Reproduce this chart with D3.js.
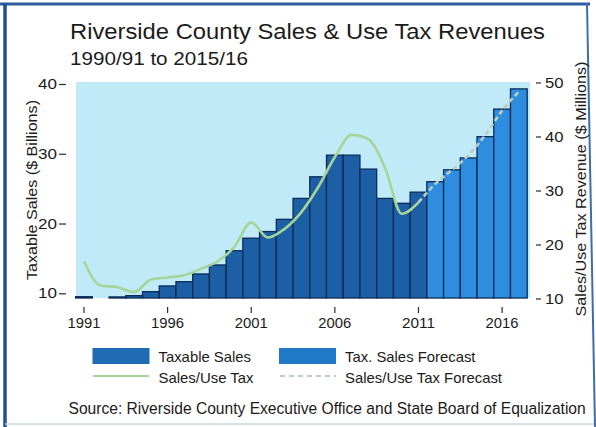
<!DOCTYPE html>
<html>
<head>
<meta charset="utf-8">
<script src="https://cdn.jsdelivr.net/npm/d3@7/dist/d3.min.js"></script>
<style>
  html, body { margin: 0; padding: 0; background: #ffffff; }
  svg { display: block; font-family: "Liberation Sans", Arial, Helvetica, sans-serif; }
</style>
</head>
<body>
<svg id="chart" width="596" height="427"></svg>
<script>
// Fiscal years shown on the x axis (bars are labelled by ending year)
const years = [1991, 1992, 1993, 1994, 1995, 1996, 1997, 1998, 1999, 2000,
               2001, 2002, 2003, 2004, 2005, 2006, 2007, 2008, 2009, 2010,
               2011, 2012, 2013, 2014, 2015, 2016, 2017];
const firstForecastYear = 2012;

// Taxable sales, $ billions (left axis)
const taxableSales = [9.51, 9.3, 9.48, 9.66, 10.23, 11.05, 11.66, 12.77, 14.06, 16.1,
                      17.9, 18.85, 20.6, 23.6, 26.7, 29.8, 29.8, 27.8, 23.6, 22.9,
                      24.5, 26.0, 27.7, 29.4, 32.45, 36.4, 39.3];

// Sales/use tax revenue, $ millions (right axis)
const taxYears = [1991, 1992, 1993, 1994, 1995, 1996, 1997, 1998, 1999, 2000,
                  2001, 2002, 2003, 2004, 2005, 2006, 2007, 2008, 2009, 2010, 2011];
const taxRevenue = [16.9, 12.4, 12.1, 11.2, 13.5, 13.9, 14.3, 15.5, 16.9, 19.6,
                    24.1, 21.3, 22.9, 26.0, 30.6, 36.2, 40.3, 39.5, 34.2, 25.7, 27.8];
const forecastTaxYears = [2011, 2012, 2013, 2014, 2015, 2016, 2017];
const forecastTaxRevenue = [27.8, 31.2, 33.8, 36.6, 40.3, 44.8, 48.3];

const xTickYears = [1991, 1996, 2001, 2006, 2011, 2016];
const leftTicks = [10, 20, 30, 40];
const rightTicks = [10, 20, 30, 40, 50];

const title = "Riverside County Sales & Use Tax Revenues";
const subtitle = "1990/91 to 2015/16";
const leftLabel = "Taxable Sales ($ Billions)";
const rightLabel = "Sales/Use Tax Revenue ($ Millions)";
const source = "Source: Riverside County Executive Office and State Board of Equalization";
const legendItems = ["Taxable Sales", "Tax. Sales Forecast", "Sales/Use Tax", "Sales/Use Tax Forecast"];

// ---- layout ----
const svg = d3.select("#chart");
const plot = { left: 76, right: 530, top: 82, bottom: 298 };

const x = d3.scaleBand().domain(years).range([75.6, 527.2]).padding(0);
const yLeft = d3.scaleLinear().domain([10, 40]).range([293.3, 84]);
const yRight = d3.scaleLinear().domain([10, 50]).range([298.5, 82.5]);

const colActual = "#1d5fa4";
const colForecast = "#2f8ddf";
const colOutline = "#0b2b58";
const colLine = "#a6d59a";
const colDash = "#bccdc0";
const ink = "#1b1b1b";

// page frame
svg.append("rect").attr("width", 596).attr("height", 427).attr("fill", "#ffffff");
svg.append("line").attr("x1", 0).attr("x2", 590).attr("y1", 4).attr("y2", 4)
  .attr("stroke", "#2b5b9c").attr("stroke-width", 3);
svg.append("line").attr("x1", 5).attr("x2", 5).attr("y1", 3).attr("y2", 427)
  .attr("stroke", "#1f4f96").attr("stroke-width", 3.5);
svg.append("line").attr("x1", 587).attr("x2", 595).attr("y1", 3).attr("y2", 427)
  .attr("stroke", "#3e6ea8").attr("stroke-width", 2);
svg.append("line").attr("x1", 5).attr("x2", 594).attr("y1", 424).attr("y2", 424)
  .attr("stroke", "#c4d7e7").attr("stroke-width", 1.5);

// titles
svg.append("text").attr("x", 70).attr("y", 39).attr("font-size", 22).attr("fill", ink)
  .attr("textLength", 475).attr("lengthAdjust", "spacingAndGlyphs")
  .text(title);
svg.append("text").attr("x", 70).attr("y", 65).attr("font-size", 17.5).attr("fill", ink)
  .attr("textLength", 178).attr("lengthAdjust", "spacingAndGlyphs")
  .text(subtitle);

// plot background
svg.append("rect").attr("x", plot.left).attr("y", plot.top)
  .attr("width", plot.right - plot.left).attr("height", plot.bottom - plot.top)
  .attr("fill", "#c0eaf8");

// bars
const barData = years.map((yr, i) => ({ year: yr, value: taxableSales[i] }));
svg.append("g").selectAll("rect").data(barData).join("rect")
  .attr("x", d => x(d.year))
  .attr("width", x.bandwidth())
  .attr("y", d => Math.min(plot.bottom, yLeft(d.value)))
  .attr("height", d => Math.max(0, plot.bottom - yLeft(d.value)))
  .attr("fill", d => d.year >= firstForecastYear ? colForecast : colActual)
  .attr("stroke", colOutline)
  .attr("stroke-width", 1.3);

// tax revenue lines
const line = d3.line()
  .x(d => x(d[0]) + x.bandwidth() / 2)
  .y(d => yRight(d[1]))
  .curve(d3.curveMonotoneX);

svg.append("path")
  .datum(taxYears.map((yr, i) => [yr, taxRevenue[i]]))
  .attr("d", line).attr("fill", "none")
  .attr("stroke", colLine).attr("stroke-width", 2.6).attr("stroke-linejoin", "round");

svg.append("path")
  .datum(forecastTaxYears.map((yr, i) => [yr, forecastTaxRevenue[i]]))
  .attr("d", line).attr("fill", "none")
  .attr("stroke", colDash).attr("stroke-width", 2.6).attr("stroke-dasharray", "5,3");

// axes
function styleAxis(g, labelWidth) {
  g.select(".domain").remove();
  g.selectAll(".tick line").attr("stroke", "#2a2a2a").attr("stroke-width", 1.2);
  g.selectAll(".tick text").attr("fill", ink).attr("font-size", 14.5)
    .attr("font-family", "Liberation Sans, Arial, sans-serif")
    .attr("textLength", labelWidth).attr("lengthAdjust", "spacingAndGlyphs");
}

svg.append("g").attr("transform", "translate(66,0)")
  .call(d3.axisLeft(yLeft).tickValues(leftTicks).tickSize(7).tickPadding(2))
  .call(g => styleAxis(g, 19));

svg.append("g").attr("transform", "translate(536,0)")
  .call(d3.axisRight(yRight).tickValues(rightTicks).tickSize(5).tickPadding(4))
  .call(g => styleAxis(g, 18.5));

svg.append("g").attr("transform", "translate(0,307)")
  .call(d3.axisBottom(x).tickValues(xTickYears).tickSize(6).tickPadding(5))
  .call(g => styleAxis(g, 33));

// axis titles
svg.append("text").attr("transform", "translate(37,190) rotate(-90)")
  .attr("text-anchor", "middle").attr("font-size", 15.5).attr("fill", ink)
  .attr("textLength", 180).attr("lengthAdjust", "spacingAndGlyphs")
  .text(leftLabel);
svg.append("text").attr("transform", "translate(586,189) rotate(-90)")
  .attr("text-anchor", "middle").attr("font-size", 15).attr("fill", ink)
  .attr("textLength", 255).attr("lengthAdjust", "spacingAndGlyphs")
  .text(rightLabel);

// legend
const lg = svg.append("g").attr("font-size", 14.5).attr("fill", ink);
lg.append("rect").attr("x", 92.5).attr("y", 348).attr("width", 57).attr("height", 16).attr("fill", "#1f6cb3");
lg.append("rect").attr("x", 279).attr("y", 348).attr("width", 57).attr("height", 16).attr("fill", "#2078c8");
lg.append("line").attr("x1", 93).attr("x2", 149).attr("y1", 376).attr("y2", 376)
  .attr("stroke", colLine).attr("stroke-width", 2);
lg.append("line").attr("x1", 280).attr("x2", 336).attr("y1", 376).attr("y2", 376)
  .attr("stroke", colDash).attr("stroke-width", 2).attr("stroke-dasharray", "5,4");
const legendPos = [
  { x: 158.5, y: 361.5, w: 92.5 },
  { x: 345, y: 361.5, w: 130.5 },
  { x: 158.5, y: 383, w: 95 },
  { x: 345, y: 383, w: 157 }
];
lg.selectAll("text").data(legendItems).join("text")
  .attr("x", (d, i) => legendPos[i].x)
  .attr("y", (d, i) => legendPos[i].y)
  .attr("textLength", (d, i) => legendPos[i].w)
  .attr("lengthAdjust", "spacingAndGlyphs")
  .text(d => d);

// source line, sized to fit inside the frame
svg.append("text").attr("x", 68.5).attr("y", 414).attr("font-size", 15.6).attr("fill", ink)
  .text(source);
</script>
</body>
</html>
